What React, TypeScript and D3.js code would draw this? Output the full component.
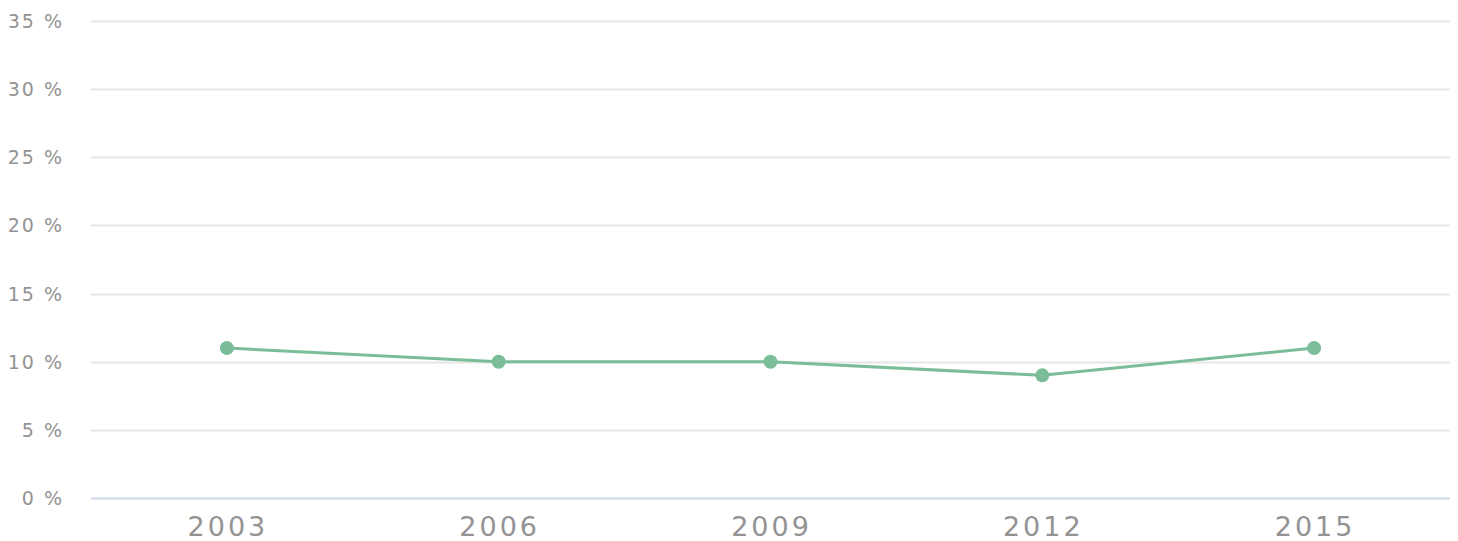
import React, { useRef, useEffect } from 'react';
import * as d3 from 'd3';

const years = ['2003', '2006', '2009', '2012', '2015'];
const shares = [11, 10, 10, 9, 11];
const yTicks = [0, 5, 10, 15, 20, 25, 30, 35];

function LineChart() {
  const ref = useRef<SVGSVGElement>(null);
  const width = 1458;
  const height = 541;
  const margin = { top: 21, right: 8, bottom: 43, left: 91 };

  useEffect(() => {
    const svg = d3.select(ref.current);
    svg.selectAll('*').remove();

    const innerW = width - margin.left - margin.right;
    const innerH = height - margin.top - margin.bottom;

    const x = d3.scaleBand<string>().domain(years).range([0, innerW]).padding(0);
    const y = d3.scaleLinear().domain([0, 35]).range([innerH, 0]);

    const g = svg.append('g').attr('transform', `translate(${margin.left},${margin.top})`);

    // grid lines
    g.selectAll('line.grid')
      .data(yTicks.filter((t) => t > 0))
      .enter()
      .append('line')
      .attr('x1', 0)
      .attr('x2', innerW)
      .attr('y1', (d) => Math.round(y(d)) + 0.5)
      .attr('y2', (d) => Math.round(y(d)) + 0.5)
      .attr('stroke', '#e6e6e6')
      .attr('stroke-width', 2);

    // baseline
    g.append('line')
      .attr('x1', 0)
      .attr('x2', innerW)
      .attr('y1', innerH + 0.5)
      .attr('y2', innerH + 0.5)
      .attr('stroke', '#ccd6eb')
      .attr('stroke-width', 2);

    // y labels
    g.selectAll('text.ylab')
      .data(yTicks)
      .enter()
      .append('text')
      .attr('x', -27)
      .attr('y', (d) => y(d) + 7)
      .attr('text-anchor', 'end')
      .attr('fill', '#939393')
      .style('font-family', 'DejaVu Sans, sans-serif')
      .style('font-size', '19px')
      .style('letter-spacing', '2px')
      .text((d) => `${d} %`);

    // x labels
    g.selectAll('text.xlab')
      .data(years)
      .enter()
      .append('text')
      .attr('x', (d) => (x(d) as number) + x.bandwidth() / 2 + 1)
      .attr('y', innerH + 38)
      .attr('text-anchor', 'middle')
      .attr('fill', '#939393')
      .style('font-family', 'DejaVu Sans, sans-serif')
      .style('font-size', '27px')
      .style('letter-spacing', '3px')
      .text((d) => d);

    const line = d3
      .line<number>()
      .x((_, i) => (x(years[i]) as number) + x.bandwidth() / 2)
      .y((d) => y(d));

    g.append('path')
      .datum(shares)
      .attr('d', line)
      .attr('fill', 'none')
      .attr('stroke', '#7abd98')
      .attr('stroke-width', 3);

    g.selectAll('circle')
      .data(shares)
      .enter()
      .append('circle')
      .attr('cx', (_, i) => (x(years[i]) as number) + x.bandwidth() / 2)
      .attr('cy', (d) => y(d))
      .attr('r', 7)
      .attr('fill', '#7abd98');
  }, []);

  return (
    <div style={{ position: 'absolute', left: 0, top: 0 }}>
      <svg ref={ref} width={width} height={height} style={{ display: 'block' }}></svg>
    </div>
  );
}

export default function App() {
  return <LineChart />;
}
